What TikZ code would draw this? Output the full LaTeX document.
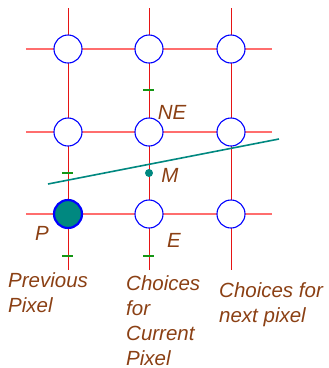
\documentclass[tikz,border=0pt]{standalone}
\usepackage{fontspec}
\setmainfont{Liberation Sans}
\definecolor{txtbrown}{RGB}{139,64,20}
\definecolor{tealc}{RGB}{0,136,128}
\definecolor{hred}{RGB}{255,110,110}
\definecolor{vred}{RGB}{230,20,20}
\definecolor{tickg}{RGB}{20,150,20}
\begin{document}
\begin{tikzpicture}[x=1pt,y=-1pt,
  hline/.style={draw=hred, line width=1.1pt},
  vline/.style={draw=vred, line width=0.9pt},
  pix/.style={circle, draw=blue, fill=white, line width=1.1pt, minimum size=28pt, inner sep=0pt},
  ppix/.style={circle, draw=blue, fill=tealc, line width=2.2pt, minimum size=28pt, inner sep=0pt},
  tick/.style={draw=tickg, line width=1.4pt},
  lbl/.style={text=txtbrown, font=\fontsize{20.5}{25}\selectfont\itshape, inner sep=0pt},
  blk/.style={lbl, align=left, anchor=north west}
]
\useasboundingbox (0,0) rectangle (329,368);
% grid coordinates
\coordinate (h1l) at (26,49);  \coordinate (h1r) at (272,49);
\coordinate (h2l) at (26,132); \coordinate (h2r) at (272,132);
\coordinate (h3l) at (26,214); \coordinate (h3r) at (272,214);
\coordinate (v1t) at (68,8);   \coordinate (v1b) at (68,270);
\coordinate (v2t) at (149,8);  \coordinate (v2b) at (149,270);
\coordinate (v3t) at (231,8);  \coordinate (v3b) at (231,270);
\draw[hline] (h1l) -- (h1r);
\draw[hline] (h2l) -- (h2r);
\draw[hline] (h3l) -- (h3r);
\draw[vline] (v1t) -- (v1b);
\draw[vline] (v2t) -- (v2b);
\draw[vline] (v3t) -- (v3b);
% ticks
\foreach \n/\x/\y in {ta/149/90, tb/68/173, tc/68/256, td/149/256}{
  \coordinate (\n l) at (\x-5.5,\y);
  \coordinate (\n r) at (\x+5.5,\y);
  \draw[tick] (\n l) -- (\n r);
}
% pixels
\node[pix] (a1) at (68,49) {};
\node[pix] (a2) at (149,49) {};
\node[pix] (a3) at (231,49) {};
\node[pix] (b1) at (68,132) {};
\node[pix] (ne) at (149,132) {};
\node[pix] (b3) at (231,132) {};
\node[ppix] (p) at (68,214) {};
\node[pix] (e) at (149,214) {};
\node[pix] (c3) at (231,214) {};
% line
\coordinate (l1) at (48,184);
\coordinate (l2) at (279,139);
\draw[draw=tealc, line width=1.6pt] (l1) -- (l2);
\node[circle, fill=tealc, inner sep=0pt, minimum size=8pt] (m) at (149,173) {};
% labels
\node[lbl] (lne) at (172,112) {NE};
\node[lbl] (lm) at (170,175) {M};
\node[lbl] (lp) at (42,233) {P};
\node[lbl] (le) at (174,240) {E};
\node[blk] (t1) at (8,272) {Previous\\Pixel};
\node[blk] (t2) at (126,275) {Choices\\for\\Current\\Pixel};
\node[blk] (t3) at (219,282) {Choices for\\next pixel};
\end{tikzpicture}
\end{document}
